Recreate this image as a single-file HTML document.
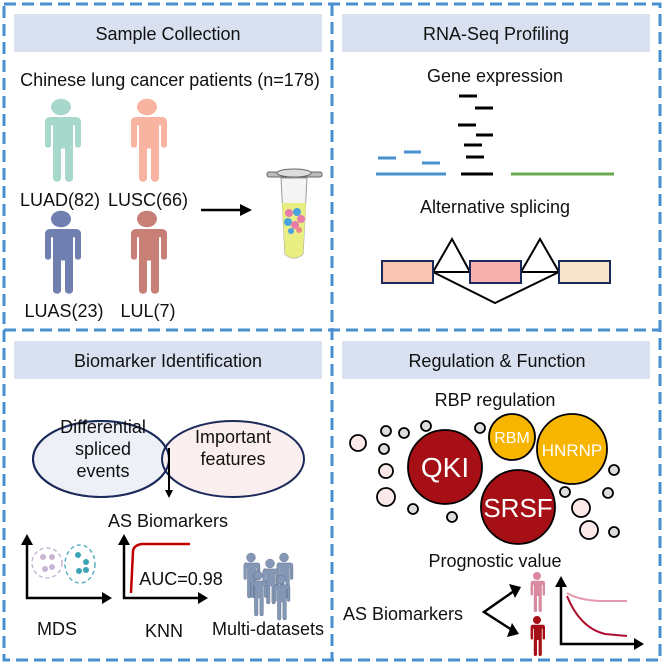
<!DOCTYPE html>
<html><head><meta charset="utf-8"><style>
html,body{margin:0;padding:0;background:#fff}
svg{display:block}
text{font-family:"Liberation Sans",sans-serif;fill:#111}
</style></head><body>
<svg width="664" height="664" viewBox="0 0 664 664" xmlns="http://www.w3.org/2000/svg">
<defs>
<marker id="ah" markerWidth="8" markerHeight="8" refX="6" refY="4" orient="auto" markerUnits="userSpaceOnUse"><path d="M0,0 L8,4 L0,8 z" fill="#000"/></marker>
<marker id="ab" markerWidth="12" markerHeight="12" refX="10" refY="6" orient="auto" markerUnits="userSpaceOnUse"><path d="M0,0 L12,6 L0,12 z" fill="#000"/></marker>
<g id="person"><circle cx="0" cy="-50" r="10"/><path d="M-14,-38 h28 q6,0 6,6 v28 a3,3 0 0 1 -6,0 v-24 h-2 v64 a4,4 0 0 1 -8,0 v-36 h-4 v36 a4,4 0 0 1 -8,0 v-64 h-2 v24 a3,3 0 0 1 -6,0 v-28 q0,-6 6,-6z"/></g>
</defs>
<g stroke="#4a8fd0" stroke-width="3" stroke-dasharray="12 6" fill="none">
<rect x="4" y="4" width="656" height="656"/>
<line x1="4" y1="330" x2="660" y2="330"/>
<line x1="332" y1="4" x2="332" y2="660"/>
</g>
<g fill="#d9e1f1">
<rect x="14" y="14" width="308" height="38"/>
<rect x="342" y="14" width="308" height="38"/>
<rect x="14" y="341" width="308" height="38"/>
<rect x="342" y="341" width="308" height="38"/>
</g>
<g font-size="18" text-anchor="middle">
<text x="168" y="40">Sample Collection</text>
<text x="496" y="40">RNA-Seq Profiling</text>
<text x="168" y="367">Biomarker Identification</text>
<text x="497" y="367">Regulation &amp; Function</text>
</g>
<!-- Panel 1 -->
<text x="170" y="86" font-size="18" text-anchor="middle">Chinese lung cancer patients (n=178)</text>
<use href="#person" transform="translate(61,148.5) scale(1,0.83)" fill="#a8d8cc"/>
<use href="#person" transform="translate(147,148.5) scale(1,0.83)" fill="#f8b4a0"/>
<use href="#person" transform="translate(61,260.5) scale(1,0.83)" fill="#6e7fb0"/>
<use href="#person" transform="translate(147,260.5) scale(1,0.83)" fill="#c87f76"/>
<g font-size="18" text-anchor="middle">
<text x="60" y="206">LUAD(82)</text>
<text x="148" y="206">LUSC(66)</text>
<text x="64" y="317">LUAS(23)</text>
<text x="148" y="317">LUL(7)</text>
</g>
<line x1="201" y1="210" x2="250" y2="210" stroke="#000" stroke-width="2.5" marker-end="url(#ab)"/>
<rect x="267" y="172" width="55" height="5" rx="2" fill="#bbb" stroke="#666"/>
<ellipse cx="294" cy="173" rx="17" ry="4" fill="#ddd" stroke="#666"/>
<path d="M281,178 L307,178 L303,254 Q294,262 285,254 Z" fill="#f4f4f4" stroke="#999"/>
<path d="M282,203 L306,203 L303,254 Q294,262 285,254 Z" fill="#e8ee82"/>
<g>
<circle cx="289" cy="213" r="4" fill="#e77ca9"/><circle cx="297" cy="212" r="4" fill="#4aa3df"/><circle cx="301" cy="219" r="4" fill="#e77ca9"/>
<circle cx="288" cy="222" r="4" fill="#4aa3df"/><circle cx="295" cy="225" r="4" fill="#e77ca9"/><circle cx="291" cy="231" r="3" fill="#4aa3df"/><circle cx="299" cy="230" r="3" fill="#f08a8a"/>
</g>
<!-- Panel 2 -->
<g font-size="18" text-anchor="middle">
<text x="495" y="82">Gene expression</text>
<text x="495" y="213">Alternative splicing</text>
</g>
<g stroke-width="3">
<g stroke="#000">
<line x1="459" y1="96" x2="477" y2="96"/><line x1="475" y1="108" x2="493" y2="108"/>
<line x1="458" y1="125" x2="476" y2="125"/><line x1="476" y1="135" x2="493" y2="135"/>
<line x1="464" y1="145" x2="482" y2="145"/><line x1="466" y1="157" x2="484" y2="157"/>
<line x1="461" y1="174" x2="493" y2="174"/>
</g>
<g stroke="#4a8fd0">
<line x1="376" y1="174" x2="446" y2="174"/><line x1="378" y1="158" x2="396" y2="158"/>
<line x1="404" y1="152" x2="421" y2="152"/><line x1="422" y1="163" x2="440" y2="163"/>
</g>
<line x1="511" y1="174" x2="614" y2="174" stroke="#6aa84f"/>
</g>
<g stroke="#000" stroke-width="2" fill="none">
<path d="M433,272 L452,239 L470,272 M521,272 L540,239 L559,272 M433,272 L470,272 M521,272 L559,272 M433,272 L495,303 L559,272"/>
</g>
<g stroke="#1b2a5a" stroke-width="2">
<rect x="382" y="261" width="51" height="22" fill="#f9c5b3"/>
<rect x="470" y="261" width="51" height="22" fill="#f6b0ae"/>
<rect x="559" y="261" width="51" height="22" fill="#f8e3cb"/>
</g>
<!-- Panel 3 -->
<ellipse cx="101" cy="459" rx="68" ry="38" fill="#eef0f8" stroke="#1b2a5a" stroke-width="2"/>
<ellipse cx="233" cy="459" rx="71" ry="38" fill="#fbeeee" stroke="#1b2a5a" stroke-width="2"/>
<ellipse cx="101" cy="459" rx="68" ry="38" fill="none" stroke="#1b2a5a" stroke-width="2"/>
<g font-size="18" text-anchor="middle">
<text x="103" y="433">Differential</text>
<text x="103" y="455">spliced</text>
<text x="103" y="477">events</text>
<text x="233" y="443">Important</text>
<text x="233" y="465">features</text>
<text x="168" y="527">AS Biomarkers</text>
<text x="57" y="635">MDS</text>
<text x="164" y="637">KNN</text>
<text x="268" y="635">Multi-datasets</text>
<text x="181" y="585">AUC=0.98</text>
</g>
<line x1="169" y1="448" x2="169" y2="496" stroke="#000" stroke-width="2" marker-end="url(#ah)"/>
<g stroke="#000" stroke-width="2.5" fill="none">
<path d="M27,545 V598 H102" /><path d="M124,545 V598 H198"/>
</g>
<g fill="#000">
<path d="M21,545 L27,534 L33,545z"/><path d="M102,592 L112,598 L102,604z"/>
<path d="M118,545 L124,534 L130,545z"/><path d="M198,592 L208,598 L198,604z"/>
</g>
<circle cx="47" cy="563" r="15" fill="none" stroke="#c9b6d3" stroke-width="1.5" stroke-dasharray="4 3"/>
<ellipse cx="80" cy="564" rx="15" ry="19" fill="none" stroke="#5bb2c2" stroke-width="1.5" stroke-dasharray="4 3"/>
<g fill="#c9b6d3"><circle cx="43" cy="557" r="3"/><circle cx="52" cy="557" r="3"/><circle cx="45" cy="569" r="3"/><circle cx="52" cy="567" r="3"/></g>
<g fill="#3aa3b6"><circle cx="78" cy="555" r="3"/><circle cx="86" cy="562" r="3"/><circle cx="79" cy="571" r="3"/><circle cx="86" cy="570" r="3"/></g>
<path d="M131,593 L133,551 Q134,545 142,544 L190,544" stroke="#c00000" stroke-width="2.5" fill="none"/>
<g fill="#8497b5" stroke="#4a5a78" stroke-width="0.7">
<use href="#person" transform="translate(251,580) scale(0.45)"/>
<use href="#person" transform="translate(284,580) scale(0.45)"/>
<use href="#person" transform="translate(270,586) scale(0.45)"/>
<use href="#person" transform="translate(258,598) scale(0.45)"/>
<use href="#person" transform="translate(281,602) scale(0.45)"/>
</g>
<!-- Panel 4 -->
<g font-size="18" text-anchor="middle">
<text x="495" y="406">RBP regulation</text>
<text x="495" y="567">Prognostic value</text>
<text x="403" y="620">AS Biomarkers</text>
</g>
<g stroke="#000" stroke-width="1.8">
<circle cx="358" cy="443" r="8" fill="#fbe9e9"/><circle cx="386" cy="431" r="5" fill="#ddd"/>
<circle cx="384" cy="449" r="5" fill="#ddd"/><circle cx="386" cy="471" r="7" fill="#fbe9e9"/>
<circle cx="386" cy="497" r="9" fill="#fbe9e9"/><circle cx="404" cy="433" r="5" fill="#ddd"/>
<circle cx="426" cy="426" r="5" fill="#ddd"/><circle cx="480" cy="428" r="5" fill="#ddd"/>
<circle cx="413" cy="509" r="5" fill="#ddd"/><circle cx="452" cy="517" r="5" fill="#ddd"/>
<circle cx="614" cy="470" r="5" fill="#ddd"/><circle cx="565" cy="492" r="5" fill="#ddd"/>
<circle cx="608" cy="493" r="5" fill="#ddd"/><circle cx="581" cy="508" r="9" fill="#fbe9e9"/>
<circle cx="589" cy="530" r="9" fill="#fbe9e9"/><circle cx="614" cy="532" r="5" fill="#ddd"/>
<circle cx="445" cy="467" r="37" fill="#a50f15"/>
<circle cx="518" cy="507" r="37" fill="#a50f15"/>
<circle cx="512" cy="437" r="23" fill="#f7b500"/>
<circle cx="572" cy="449" r="35" fill="#f7b500"/>
</g>
<g text-anchor="middle">
<text x="445" y="477" font-size="28" style="fill:#fff">QKI</text>
<text x="518" y="517" font-size="26" style="fill:#fff">SRSF</text>
<text x="512" y="443" font-size="16" style="fill:#fff">RBM</text>
<text x="572" y="456" font-size="17" style="fill:#fff">HNRNP</text>
</g>
<g stroke="#000" stroke-width="2.5" fill="none">
<path d="M514,591 L484,612 L512,630"/>
<path d="M561,585 V644 H634"/>
</g>
<g fill="#000">
<path d="M509,584 L521,587 L515,598z"/><path d="M507,637 L519,634 L512,623z"/>
<path d="M555,587 L561,576 L567,587z"/><path d="M634,638 L644,644 L634,650z"/>
</g>
<use href="#person" transform="translate(537,596) scale(0.4)" fill="#d98aa0"/>
<use href="#person" transform="translate(537,640) scale(0.4)" fill="#a50f15"/>
<path d="M567,593 Q578,600 600,601 L627,601" stroke="#e39aad" stroke-width="2" fill="none"/>
<path d="M567,596 Q580,628 605,634 L627,636" stroke="#b01030" stroke-width="2" fill="none"/>
</svg>
</body></html>
